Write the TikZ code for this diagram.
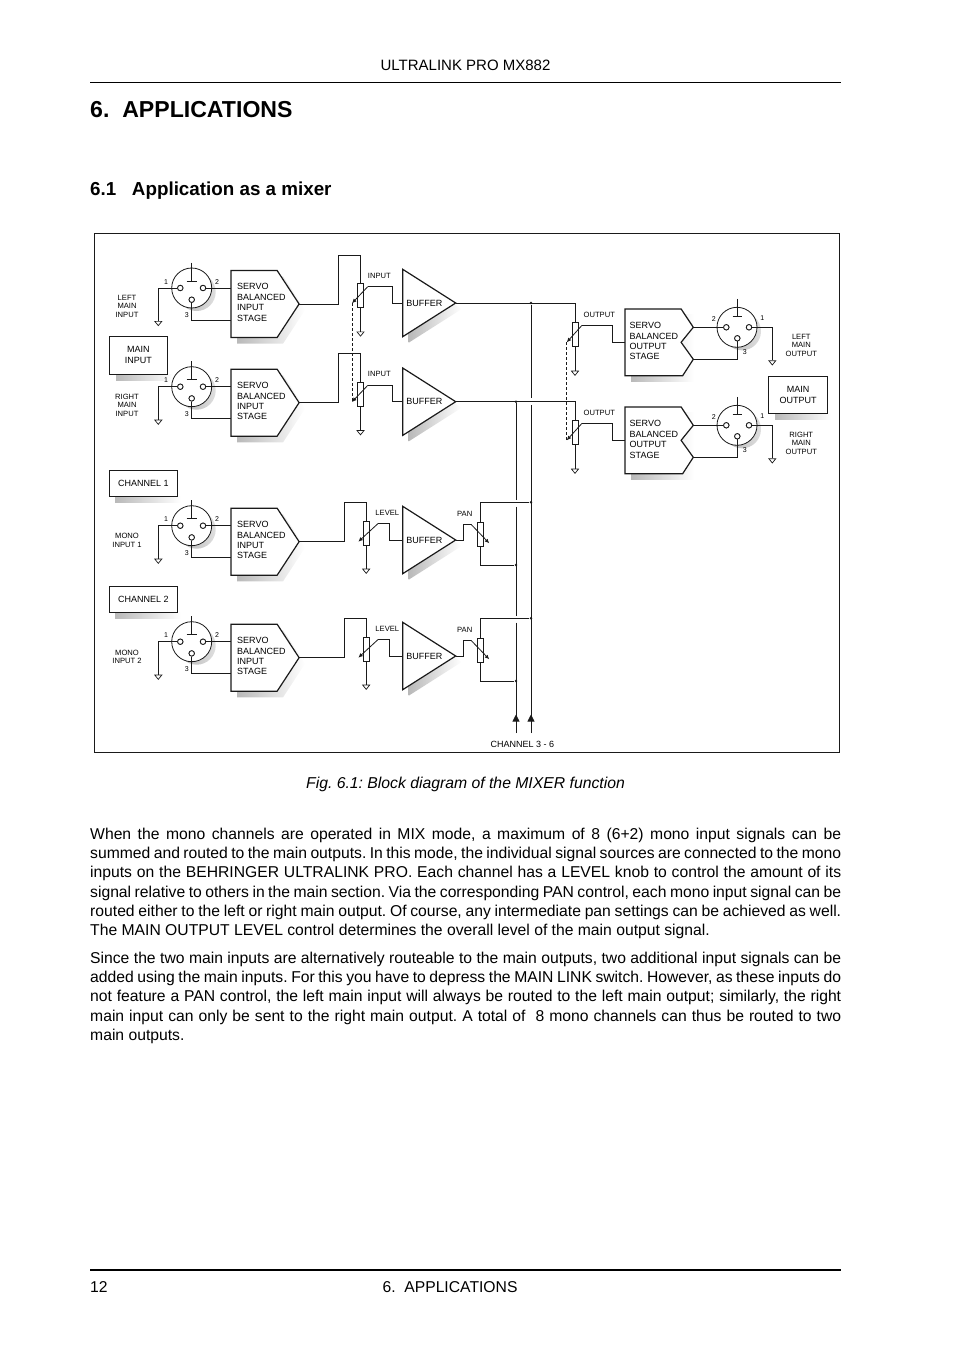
\documentclass[tikz,border=0pt]{standalone}
\usepackage{fontspec}
\setmainfont{Liberation Sans}
\usepackage{tikz}
\usetikzlibrary{arrows.meta,shapes.geometric,backgrounds}
\definecolor{ink}{HTML}{1A1A1A}
\begin{document}
\begin{tikzpicture}[
  x=1pt,y=-1pt,
  wire/.style={line width=0.8pt,draw=ink},
  heavy/.style={line width=1.2pt,draw=ink,fill=white},
  wiper/.style={line width=0.8pt,draw=ink,-{Latex[length=4.5pt,width=4pt]}},
  gang/.style={line width=0.8pt,draw=ink,dashed,dash pattern=on 3pt off 2pt},
  shadowfill/.style={left color=gray!55,right color=white},
  roundshadow/.style={left color=gray!60,right color=gray!25},
  servoin/.style={inner xsep=6pt,inner ysep=0pt,text width=55.7pt,minimum height=66.7pt,align=left,font=\fontsize{9}{10.4}\selectfont},
  servoout/.style={inner xsep=4.5pt,inner ysep=0pt,text width=59.3pt,minimum height=66.3pt,align=left,font=\fontsize{9}{10.4}\selectfont},
  buffer/.style={inner xsep=3.5pt,inner ysep=0pt,text width=45.6pt,minimum height=67pt,align=left,font=\fontsize{9}{10.4}\selectfont},
  xlr/.style={circle,draw=ink,fill=white,line width=0.8pt,minimum size=40pt,inner sep=0pt},
  pin/.style={circle,draw=ink,fill=white,line width=0.8pt,minimum size=5.4pt,inner sep=0pt},
  pot/.style={rectangle,draw=ink,fill=white,line width=0.8pt,minimum width=6pt,minimum height=24.4pt,inner sep=0pt},
  gnd/.style={isosceles triangle,isosceles triangle stretches,shape border rotate=-90,draw=ink,fill=white,line width=0.7pt,minimum width=7pt,minimum height=4.3pt,inner sep=0pt,anchor=lower side},
  dot/.style={circle,fill=ink,inner sep=0pt,minimum size=2.8pt},
  tag/.style={inner sep=0pt,align=center,font=\fontsize{7.6}{8.6}\selectfont},
  num/.style={inner sep=0pt,font=\fontsize{7}{8}\selectfont},
  panel/.style={draw=ink,fill=white,line width=0.9pt,inner sep=0pt,align=center,font=\fontsize{9}{10.8}\selectfont},
  bodytext/.style={inner sep=0pt,anchor=north west,text width=751pt,align=justify,font=\fontsize{15.7}{19.2}\selectfont\frenchspacing}
]
  \useasboundingbox (0,0) rectangle (954,1351);

  % page
  \node[inner sep=0pt,font=\fontsize{15}{18}\selectfont] (header) at (465.5,65) {ULTRALINK PRO MX882};
  \coordinate (ruleA) at (90,82.5);
  \coordinate (ruleB) at (841,82.5);
  \draw[line width=0.8pt] (ruleA) -- (ruleB);
  \node[inner sep=0pt,anchor=base west,font=\fontsize{23.1}{26}\selectfont\bfseries] (title) at (90,118) {6.\ \ APPLICATIONS};
  \node[inner sep=0pt,anchor=base west,font=\fontsize{18.8}{22}\selectfont\bfseries] (section) at (90,196) {6.1\ \ \ Application as a mixer};
  \node[draw=ink,line width=0.8pt,inner sep=0pt,minimum width=745pt,minimum height=519pt] (frame) at (467,493) {};
  \node[inner sep=0pt,font=\fontsize{15.75}{19}\selectfont\itshape\frenchspacing] (caption) at (465.5,784) {Fig. 6.1: Block diagram of the MIXER function};
  \node[bodytext] (para1) at (90,828) {When the mono channels are operated in MIX mode, a maximum of 8 (6+2) mono input signals can be\linebreak summed and routed to the main outputs. In this mode, the individual signal sources are connected to the mono\linebreak inputs on the BEHRINGER ULTRALINK PRO. Each channel has a LEVEL knob to control the amount of its\linebreak signal relative to others in the main section. Via the corresponding PAN control, each mono input signal can be\linebreak routed either to the left or right main output. Of course, any intermediate pan settings can be achieved as well.\linebreak The MAIN OUTPUT LEVEL control determines the overall level of the main output signal.};
  \node[bodytext] (para2) at (90,952) {Since the two main inputs are alternatively routeable to the main outputs, two additional input signals can be\linebreak added using the main inputs. For this you have to depress the MAIN LINK switch. However, as these inputs do\linebreak not feature a PAN control, the left main input will always be routed to the left main output; similarly, the right\linebreak main input can only be sent to the right main output. A total of\ \ 8 mono channels can thus be routed to two\linebreak main outputs.};
  \coordinate (ruleC) at (90,1270);
  \coordinate (ruleD) at (841,1270);
  \draw[line width=1.5pt] (ruleC) -- (ruleD);
  \node[inner sep=0pt,anchor=base west,font=\fontsize{15.7}{19}\selectfont] (pageno) at (90,1292) {12};
  \node[inner sep=0pt,anchor=base,font=\fontsize{15.7}{19}\selectfont] (footer) at (450,1292) {6.\ \ APPLICATIONS};

  % input stages, all four rows
  \foreach \r/\y/\ty/\lab in {1/288/18.3/{LEFT\\MAIN\\INPUT},2/386.7/18.3/{RIGHT\\MAIN\\INPUT},3/525.7/14.5/{MONO\\INPUT 1},4/641.7/15.3/{MONO\\INPUT 2}} {
    \node[xlr] (xlr\r) at (191.7,\y) {};
    \node[pin] (a\r) at (180.3,\y) {};
    \node[pin] (b\r) at (203,\y) {};
    \node[pin] (c\r) at (191.7,\y+11.7) {};
    \node[gnd] (g\r) at (158.3,\y+33) {};
    \node[servoin,anchor=west] (si\r) at (231,\y+16) {SERVO\\BALANCED\\INPUT\\STAGE\vspace{3pt}};
    \node[num] (na\r) at (166,\y-6.4) {1};
    \node[num] (nb\r) at (217,\y-6.4) {2};
    \node[num] (nc\r) at (186.7,\y+27) {3};
    \node[tag] (lab\r) at (127,\y+\ty) {\lab};
    \begin{scope}[on background layer]
      \shade[shadowfill] ([shift={(6,6)}]si\r.north west) -- ([shift={(-16,6)}]si\r.north east) -- ([shift={(6,6)}]si\r.east) -- ([shift={(-16,6)}]si\r.south east) -- ([shift={(6,6)}]si\r.south west) -- cycle;
      \shade[roundshadow] ([shift={(5,4)}]xlr\r.center) circle[radius=19];
      \draw[heavy] (si\r.north west) -- ([xshift=-22pt]si\r.north east) -- (si\r.east) -- ([xshift=-22pt]si\r.south east) -- (si\r.south west) -- cycle;
    \end{scope}
    \draw[wire] (a\r) -| (g\r.lower side);
    \draw[wire] (b\r) -- ([yshift=16pt]si\r.west);
    \draw[wire] (c\r) |- ([yshift=-16pt]si\r.west);
    \draw[wire] ([yshift=5pt]xlr\r.north) -- ([yshift=7pt]xlr\r.center);
    \draw[wire] ([shift={(-5pt,7pt)}]xlr\r.center) -- ([shift={(5pt,7pt)}]xlr\r.center);
    \node[pin] at (a\r) {};
    \node[pin] at (b\r) {};
    \node[pin] at (c\r) {};
  }

  % main input rows
  \foreach \r/\y in {1/288,2/386.7} {
    \node[pot] (p\r) at (360.5,\y+7.5) {};
    \node[gnd] (h\r) at (360.5,\y+43.5) {};
    \node[tag] (t\r) at (379.3,\y-12.3) {INPUT};
    \node[buffer,anchor=west] (buf\r) at (402.7,\y+15) {BUFFER};
    \coordinate (jog\r) at (338.5,\y-33);
    \coordinate (wr\r) at (367.7,\y-1.3);
    \coordinate (wl\r) at (352,\y+15.3);
    \coordinate (wb\r) at (392.3,\y+15);
    \begin{scope}[on background layer]
      \shade[shadowfill] ([shift={(6,6)}]buf\r.north west) -- ([shift={(6,6)}]buf\r.east) -- ([shift={(6,6)}]buf\r.south west) -- cycle;
      \draw[heavy] (buf\r.north west) -- (buf\r.east) -- (buf\r.south west) -- cycle;
    \end{scope}
    \draw[wire] (si\r.east) -| (jog\r) -| (p\r.north);
    \draw[wire] (p\r.south) -- (h\r.lower side);
    \draw[wiper] (wr\r) -- (wl\r);
    \draw[wire] (wr\r) -| (wb\r) -- (buf\r.west);
  }
  \draw[gang] (wl1) -- (wl2);

  % mono channels
  \foreach \r/\y in {3/525.7,4/641.7} {
    \node[pot] (p\r) at (366.2,\y+7.5) {};
    \node[gnd] (h\r) at (366.2,\y+43) {};
    \node[tag] (t\r) at (387.3,\y-12.4) {LEVEL};
    \node[tag] (u\r) at (464.7,\y-11.6) {PAN};
    \node[buffer,anchor=west] (buf\r) at (402.7,\y+14.3) {BUFFER};
    \node[pot] (pan\r) at (480.5,\y+8.8) {};
    \coordinate (jog\r) at (344.3,\y-23.4);
    \coordinate (wr\r) at (378.3,\y-2.4);
    \coordinate (wl\r) at (358.3,\y+16);
    \coordinate (wb\r) at (389.3,\y+14.3);
    \coordinate (pr\r) at (463.3,\y-1.4);
    \coordinate (ps\r) at (471,\y-1.4);
    \coordinate (pe\r) at (489.3,\y+17.6);
    \coordinate (top\r) at (480.5,\y-23.4);
    \coordinate (low\r) at (480.5,\y+39.3);
    \node[dot] (tr\r) at (531,\y-23.4) {};
    \node[dot] (tl\r) at (516,\y+39.3) {};
    \begin{scope}[on background layer]
      \shade[shadowfill] ([shift={(6,6)}]buf\r.north west) -- ([shift={(6,6)}]buf\r.east) -- ([shift={(6,6)}]buf\r.south west) -- cycle;
      \draw[heavy] (buf\r.north west) -- (buf\r.east) -- (buf\r.south west) -- cycle;
    \end{scope}
    \draw[wire] (si\r.east) -| (jog\r) -| (p\r.north);
    \draw[wire] (p\r.south) -- (h\r.lower side);
    \draw[wiper] (wr\r) -- (wl\r);
    \draw[wire] (wr\r) -| (wb\r) -- (buf\r.west);
    \draw[wire] (buf\r.east) -| (pr\r) -- (ps\r);
    \draw[wiper] (ps\r) -- (pe\r);
    \draw[wire] (pan\r.north) -- (top\r) -- (tr\r);
    \draw[wire] (pan\r.south) -- (low\r) -- (tl\r);
  }

  % output stages
  \foreach \r/\i/\y/\lab in {5/1/327.3/{LEFT\\MAIN\\OUTPUT},6/2/425.3/{RIGHT\\MAIN\\OUTPUT}} {
    \node[xlr] (xlr\r) at (737,\y) {};
    \node[pin] (a\r) at (749,\y) {};
    \node[pin] (b\r) at (726.3,\y) {};
    \node[pin] (c\r) at (737.3,\y+11) {};
    \node[gnd] (g\r) at (772.3,\y+33) {};
    \node[pot] (p\r) at (575,\y+7.2) {};
    \node[gnd] (h\r) at (575,\y+43.4) {};
    \node[tag] (t\r) at (599.3,\y-12.6) {OUTPUT};
    \node[servoout,anchor=west] (so\r) at (625,\y+15) {SERVO\\BALANCED\\OUTPUT\\STAGE\vspace{2pt}};
    \node[num] (na\r) at (762.3,\y-9) {1};
    \node[num] (nb\r) at (713.7,\y-8.3) {2};
    \node[num] (nc\r) at (744.7,\y+25) {3};
    \node[tag] (lab\r) at (801.3,\y+18) {\lab};
    \coordinate (sa\r) at (693.3,\y);
    \coordinate (sb\r) at (693.3,\y+32);
    \coordinate (wr\r) at (582,\y-2);
    \coordinate (wl\r) at (566.7,\y+15);
    \coordinate (wb\r) at (612,\y+15);
    \begin{scope}[on background layer]
      \shade[shadowfill] ([shift={(6,6)}]so\r.north west) -- ([shift={(0,6)}]so\r.north east) -- ([shift={(0,6)}]so\r.south east) -- ([shift={(6,6)}]so\r.south west) -- cycle;
      \shade[roundshadow] ([shift={(5,4)}]xlr\r.center) circle[radius=19];
      \draw[heavy] (so\r.north west) -- ([xshift=-12.6pt]so\r.north east) -- (sa\r) -- ([xshift=-12.6pt]so\r.east) -- (sb\r) -- ([xshift=-11pt]so\r.south east) -- (so\r.south west) -- cycle;
    \end{scope}
    \draw[wire] (sa\r) -- (b\r);
    \draw[wire] (sb\r) -| (c\r);
    \draw[wire] (a\r) -| (g\r.lower side);
    \draw[wire] ([yshift=8pt]xlr\r.north) -- ([yshift=11pt]xlr\r.center);
    \draw[wire] ([shift={(-4.5pt,11pt)}]xlr\r.center) -- ([shift={(4.5pt,11pt)}]xlr\r.center);
    \draw[wire] (p\r.south) -- (h\r.lower side);
    \draw[wiper] (wr\r) -- (wl\r);
    \draw[wire] (wr\r) -| (wb\r) -- (so\r.west);
    \draw[wire] (buf\i.east) -| (p\r.north);
    \node[pin] at (a\r) {};
    \node[pin] at (b\r) {};
    \node[pin] at (c\r) {};
  }
  \draw[gang] (wl5) -- (wl6);

  % summing buses
  \node[dot] (tapR) at (531,303) {};
  \node[dot] (tapL) at (516,401.7) {};
  \coordinate (gapRa) at (531,398);
  \coordinate (gapRb) at (531,405);
  \coordinate (gapLa) at (516,500);
  \coordinate (gapLb) at (516,506.7);
  \coordinate (gapLc) at (516,616);
  \coordinate (gapLd) at (516,622.7);
  \coordinate (endR) at (531,733);
  \coordinate (endL) at (516,733);
  \coordinate (tipR) at (531,714.5);
  \coordinate (tipL) at (516,714.5);
  \draw[wire] (tapR) -- (gapRa) (gapRb) -- (endR);
  \draw[wire] (tapL) -- (gapLa) (gapLb) -- (gapLc) (gapLd) -- (endL);
  \draw[wire,-{Triangle[length=7pt,width=7pt]}] (endR) -- (tipR);
  \draw[wire,-{Triangle[length=7pt,width=7pt]}] (endL) -- (tipL);
  \node[inner sep=0pt,font=\fontsize{9}{10.8}\selectfont] (chrest) at (522.5,744) {CHANNEL 3 - 6};

  % panels
  \begin{scope}[on background layer]
    \shade[shadowfill] (116,374) rectangle (173,380);
    \shade[shadowfill] (115,496) rectangle (181,502);
    \shade[shadowfill] (115,612) rectangle (181,618);
    \shade[shadowfill] (775,413) rectangle (831,419);
  \end{scope}
  \node[panel,minimum width=58pt,minimum height=37.3pt] (maininput) at (138.3,355.3) {MAIN\\INPUT};
  \node[panel,minimum width=68pt,minimum height=25.7pt] (channelA) at (143.3,483.2) {CHANNEL 1};
  \node[panel,minimum width=68pt,minimum height=25.7pt] (channelB) at (143.3,599.2) {CHANNEL 2};
  \node[panel,minimum width=59.4pt,minimum height=36.6pt] (mainoutput) at (798,395) {MAIN\\OUTPUT};
\end{tikzpicture}
\end{document}
